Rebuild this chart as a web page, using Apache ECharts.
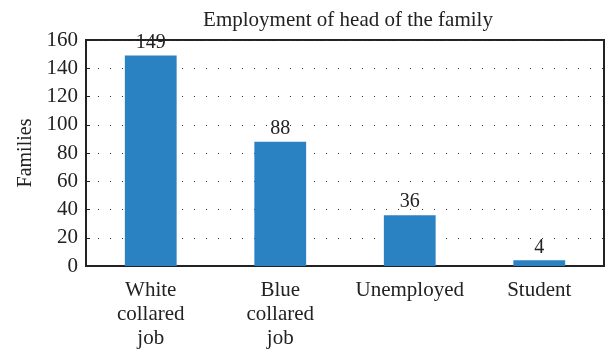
<!DOCTYPE html>
<html>
<head>
	<meta charset="utf-8">
	<title></title>
	<style type="text/css">
		html, body { margin: 0; padding: 0; background: #fff; }
		#main { width: 606px; height: 351px; }
	</style>
	<script src="https://cdn.jsdelivr.net/npm/echarts@6/dist/echarts.min.js"></script>
</head>
<body>
	<div id="main"></div>
	<script type="text/javascript">
		var categories = ['White\ncollared\njob', 'Blue\ncollared\njob', 'Unemployed', 'Student'];
		var families = [149, 88, 36, 4];
		var yTicks = [0, 20, 40, 60, 80, 100, 120, 140, 160];

		var font = 'Liberation Serif';
		var chart = echarts.init(document.getElementById('main'));
		var option = {
			animation: false,
			title: {
				text: 'Employment of head of the family',
				left: 343, top: 5, textAlign: 'center',
				textStyle: { fontFamily: font, fontWeight: 'normal', fontSize: 21, color: '#222' }
			},
			grid: {
				left: 86, right: 2, top: 40, bottom: 85,
				show: true, borderColor: '#222', borderWidth: 2, backgroundColor: 'transparent'
			},
			xAxis: {
				type: 'category',
				data: categories,
				axisLine: { lineStyle: { color: '#222', width: 2 } },
				axisTick: { inside: true, length: 5, lineStyle: { color: '#222', width: 2 } },
				axisLabel: { interval: 0, hideOverlap: false, fontFamily: font, fontSize: 21, color: '#222', lineHeight: 24, margin: 12 }
			},
			yAxis: {
				type: 'value',
				min: yTicks[0], max: yTicks[yTicks.length - 1], interval: 20,
				name: 'Families', nameLocation: 'middle', nameGap: 50, nameRotate: 90,
				nameTextStyle: { fontFamily: font, fontSize: 20, color: '#222' },
				axisLine: { show: true, lineStyle: { color: '#222', width: 2 } },
				axisTick: { show: true, inside: true, length: 4, lineStyle: { color: '#222' } },
				axisLabel: { fontFamily: font, fontSize: 21, color: '#222', margin: 8 },
				splitLine: { lineStyle: { color: '#333', type: [1, 11], width: 1.2 } }
			},
			series: [{
				type: 'bar',
				data: families,
				barWidth: '40%',
				itemStyle: { color: '#2b82c2' },
				label: { show: true, position: 'top', distance: 3, fontFamily: font, fontSize: 20, color: '#222' }
			}]
		};
		chart.setOption(option);
	</script>
</body>
</html>
